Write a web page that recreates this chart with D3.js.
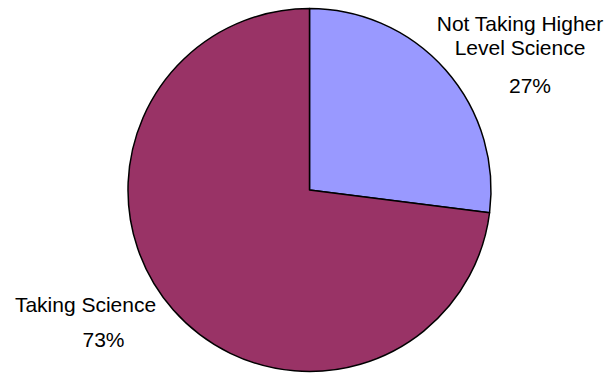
<!DOCTYPE html>
<html>
<head>
<meta charset="utf-8">
<script src="https://cdn.jsdelivr.net/npm/d3@7"></script>
<style>
  html, body { margin: 0; padding: 0; background: #fff; }
  svg { display: block; }
  text { font-family: Arial, "Liberation Sans", sans-serif; font-size: 21px; fill: #000; }
</style>
</head>
<body>
<svg id="chart" width="614" height="373"></svg>
<script>
// Share of students by science participation
const categories = ["Not Taking Higher Level Science", "Taking Science"];
const labelLines = [["Not Taking Higher", "Level Science"], ["Taking Science"]];
const values = [27, 73];
const colors = ["#9999FF", "#993366"];

const svg = d3.select("#chart");
const cx = 309.5, cy = 190, r = 181.5;

const pie = d3.pie().sort(null).value(d => d)(values);
const arc = d3.arc().innerRadius(0).outerRadius(r);

const g = svg.append("g").attr("transform", `translate(${cx},${cy})`);
g.selectAll("path")
  .data(pie)
  .join("path")
  .attr("d", arc)
  .attr("fill", (d, i) => colors[i])
  .attr("stroke", "#000")
  .attr("stroke-width", 1.5)
  .attr("stroke-linejoin", "round");

// Label placement: name lines, then the percentage below
const labelPos = [
  { x: 520, y: 30.5, px: 530, py: 93 },
  { x: 85.5, y: 311.5, px: 103.5, py: 346.5 }
];
const lineH = 24.5;

labelLines.forEach((lines, i) => {
  const p = labelPos[i];
  const t = svg.append("text").attr("text-anchor", "middle");
  lines.forEach((s, j) => {
    t.append("tspan").attr("x", p.x).attr("y", p.y + j * lineH).text(s);
  });
  svg.append("text")
    .attr("text-anchor", "middle")
    .attr("x", p.px).attr("y", p.py)
    .text(d3.format(".0f")(values[i]) + "%");
});
</script>
</body>
</html>
